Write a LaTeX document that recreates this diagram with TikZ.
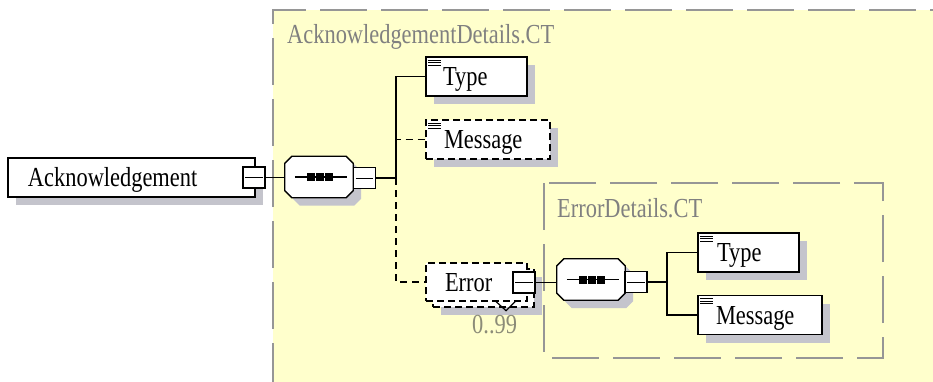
\documentclass[tikz,border=0pt]{standalone}
\usepackage{fontspec}
\usepackage{graphicx}
\setmainfont{Liberation Serif}
\usetikzlibrary{shadows}
\definecolor{yel}{RGB}{255,255,204}
\definecolor{shd}{RGB}{196,196,204}
\definecolor{frame}{RGB}{150,150,150}
\definecolor{lbl}{RGB}{128,128,128}
\definecolor{occcol}{RGB}{140,140,120}
\newcommand{\sq}[1]{\scalebox{0.815}[1]{#1}}
\newcommand{\etxt}[3]{\hbox to #1{\hspace{#2}\rule[-6.8pt]{0pt}{31.8pt}\sq{#3}\hfil}}
\newcommand{\octa}[1]{%
  \fill[shd, transform canvas={shift={(8pt,-8pt)}}] ([xshift=7pt]#1.north west) -- ([xshift=-7pt]#1.north east) -- ([yshift=-7pt]#1.north east) -- ([yshift=7pt]#1.south east) -- ([xshift=-7pt]#1.south east) -- ([xshift=7pt]#1.south west) -- ([yshift=7pt]#1.south west) -- ([yshift=-7pt]#1.north west) -- cycle;
  \draw[fill=white, line width=1.3pt] ([xshift=7pt]#1.north west) -- ([xshift=-7pt]#1.north east) -- ([yshift=-7pt]#1.north east) -- ([yshift=7pt]#1.south east) -- ([xshift=-7pt]#1.south east) -- ([xshift=7pt]#1.south west) -- ([yshift=7pt]#1.south west) -- ([yshift=-7pt]#1.north west) -- cycle;
  \draw[line width=1.2pt] ([xshift=10pt]#1.west) -- ([xshift=-6pt]#1.east);
  \foreach \o in {-8.5,0.5,9.5}
    \fill ([xshift=\o pt]#1.center) +(-4pt,-4pt) rectangle +(4pt,4pt);
}
\begin{document}
\begin{tikzpicture}[x=1pt,y=-1pt,
  font=\fontsize{27.5}{30}\selectfont,
  conn/.style={line width=1.3pt},
  optconn/.style={line width=1.3pt, dash pattern=on 7pt off 5pt},
  shd8/.style={drop shadow={shadow xshift=8pt,shadow yshift=-8pt,fill=shd,opacity=1}},
  elem/.style={draw, fill=white, line width=1.3pt, inner sep=0pt, minimum height=39pt, shd8},
  opt/.style={dash pattern=on 7pt off 4pt},
  minusbox/.style={draw, fill=white, line width=1.3pt, inner sep=0pt, minimum width=22pt, minimum height=21pt},
  seqbox/.style={rectangle, inner sep=0pt, minimum width=68pt, minimum height=41pt},
  frameline/.style={draw=frame, line width=2pt, dash pattern=on 47pt off 14pt},
  lbltext/.style={text=lbl, anchor=base west, inner sep=0pt}]
\useasboundingbox (0,0) rectangle (933,381);
\clip (0,0) rectangle (933,381);
\fill[yel] (273,10) rectangle (940,390);
\draw[frameline] (273,390) -- (273,10) -- (940,10);
\draw[frameline] (544,183) rectangle (883,358);
\node[lbltext] (lab1) at (287,43) {\sq{AcknowledgementDetails.CT}};
\node[lbltext] (lab2) at (557,217) {\sq{ErrorDetails.CT}};

\node[elem, minimum width=247pt] (ack) at (131.5,177.5) {\etxt{247pt}{20pt}{Acknowledgement}};
\node[minusbox] (ackm) at (254,177.5) {};
\node[seqbox] (seq1) at (319,177) {};
\octa{seq1}
\node[minusbox] (seq1m) at (364.5,178) {};
\coordinate (j1) at (396,178);
\node[elem] (type1) at (476.5,76.5) {\etxt{101pt}{17pt}{Type}};
\node[elem, opt] (msg1) at (488,139.5) {\etxt{124pt}{18pt}{Message}};

\node[elem, opt, minimum width=101pt, minimum height=38pt] (errb) at (483.5,288) {};
\node[draw, fill=white, line width=1.3pt, opt, inner sep=0pt, minimum height=38pt] (err) at (476.5,282) {\etxt{101pt}{19pt}{Error}};
\draw[line width=1.2pt] ([shift={(18.5pt,1pt)}]err.south) -- ++(11pt,-10pt) -- ++(10pt,10pt);
\node[minusbox] (errm) at (524,282.5) {};
\node[anchor=base west, inner sep=0pt, text=occcol] (occ) at (472,333) {\sq{0..99}};

\node[seqbox] (seq2) at (591,279.5) {};
\octa{seq2}
\node[minusbox] (seq2m) at (636,282) {};
\coordinate (j2) at (667,282);
\node[elem] (type2) at (748.5,252.5) {\etxt{101pt}{19pt}{Type}};
\node[elem] (msg2) at (760,315) {\etxt{124pt}{18pt}{Message}};

\draw[conn] (ackm.east) -- (ackm.east -| seq1.west);
\draw[optconn] (j1) |- (msg1.west);
\draw[optconn] (j1) |- (err.west);
\draw[conn] (seq1m.east) -- (j1) |- (type1.west);
\draw[conn] (errm.east) -- (errm.east -| seq2.west);
\draw[conn] (seq2m.east) -- (j2) |- (type2.west);
\draw[conn] (j2) |- (msg2.west);

\foreach \n in {type1,msg1,type2,msg2}
  \foreach \d in {4,6.5,9}
    \draw[line width=1pt] ([shift={(3pt,-\d pt)}]\n.north west) -- ++(13pt,0pt);
\foreach \n in {ackm,seq1m,errm,seq2m}
  \draw[line width=1pt] ([xshift=3pt]\n.west) -- ([xshift=-3pt]\n.east);
\end{tikzpicture}
\end{document}
